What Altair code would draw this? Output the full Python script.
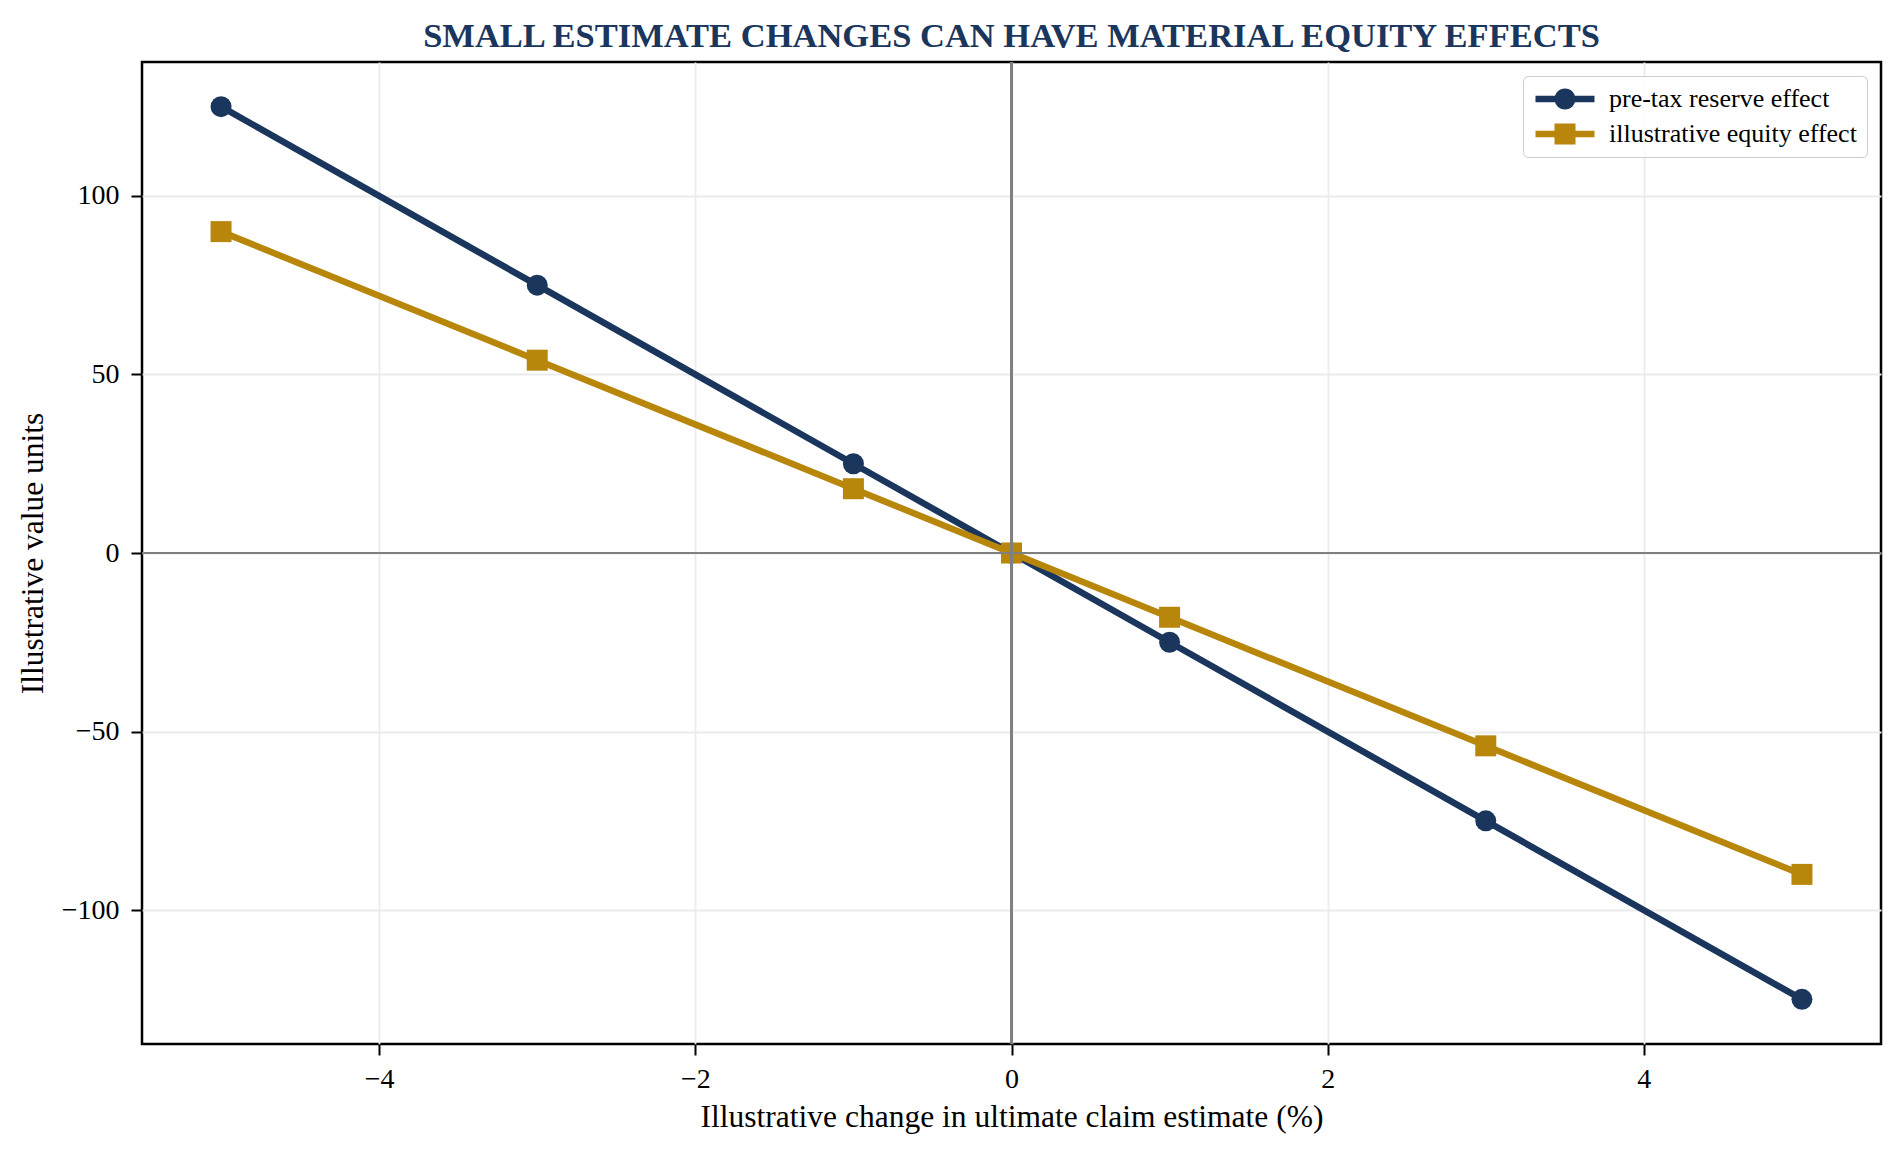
import altair as alt
import pandas as pd

change_pct = [-5, -3, -1, 0, 1, 3, 5]
pretax_effect = [125, 75, 25, 0, -25, -75, -125]
equity_effect = [90, 54, 18, 0, -18, -54, -90]
series_names = ["pre-tax reserve effect", "illustrative equity effect"]
series_colors = ["#1b365d", "#b8860b"]
series_shapes = ["circle", "square"]
x_ticks = [-4, -2, 0, 2, 4]
y_ticks = [-100, -50, 0, 50, 100]

rows = []
for i, x in enumerate(change_pct):
    rows.append({"x": x, "y": pretax_effect[i], "series": series_names[0]})
for i, x in enumerate(change_pct):
    rows.append({"x": x, "y": equity_effect[i], "series": series_names[1]})
df = pd.DataFrame(rows)

FONT = "Liberation Serif"

# legend glyphs: a short line with the marker on it
circ_path = ("M-2.81,-0.305H2.81V0.305H-2.81Z "
             "M1,0A1,1 0 1 1 -1,0A1,1 0 1 1 1,0Z")
sq_path = ("M-2.81,-0.305H2.81V0.305H-2.81Z "
           "M-1,-1H1V1H-1Z")

legend = alt.Legend(
    title=None,
    orient="none",
    legendX=1381,
    legendY=14,
    labelFont=FONT,
    labelFontSize=26,
    labelColor="#000000",
    symbolSize=441,
    symbolOffset=19,
    labelOffset=31,
    symbolStrokeWidth=0,
    symbolOpacity=1,
    rowPadding=9,
    padding=10,
    fillColor="rgba(255,255,255,0.85)",
    strokeColor="#cccccc",
    cornerRadius=5,
    labelLimit=400,
)

xscale = alt.Scale(domain=[-5.5, 5.5], nice=False, zero=False)
yscale = alt.Scale(domain=[-137.5, 137.5], nice=False, zero=False)
cscale = alt.Scale(domain=series_names, range=series_colors)

x_enc = alt.X("x:Q", scale=xscale,
              axis=alt.Axis(values=x_ticks, title="Illustrative change in ultimate claim estimate (%)",
                            labelPadding=10, titlePadding=8, format="d"))
y_enc = alt.Y("y:Q", scale=yscale,
              axis=alt.Axis(values=y_ticks, title="Illustrative value units",
                            labelPadding=12, titlePadding=12, format="d"))

layers = []
for name, col, shp in zip(series_names, series_colors, series_shapes):
    sub = alt.Chart(df).transform_filter(alt.datum.series == name).encode(x=x_enc, y=y_enc)
    layers.append(sub.mark_line(color=col, strokeWidth=6.5))
    layers.append(sub.mark_point(filled=True, opacity=1, size=441, shape=shp, color=col))

# legend-only layer: no rows pass the filter; entries come from the explicit scale domains
legend_layer = alt.Chart(df).transform_filter("false").mark_point(filled=True).encode(
    x=alt.X("x:Q", scale=xscale),
    y=alt.Y("y:Q", scale=yscale),
    color=alt.Color("series:N", scale=cscale, legend=legend),
    shape=alt.Shape("series:N", scale=alt.Scale(domain=series_names, range=[circ_path, sq_path]),
                    legend=legend),
)

zero_h = alt.Chart(df).mark_rule(color="#808080", strokeWidth=2).encode(y=alt.datum(0))
zero_v = alt.Chart(df).mark_rule(color="#808080", strokeWidth=2).encode(x=alt.datum(0))

chart = alt.layer(*layers, zero_h, zero_v, legend_layer).properties(
    width=1739,
    height=982,
    autosize=alt.AutoSizeParams(type="none"),
    padding={"left": 134, "top": 54, "right": 14, "bottom": 103},
    title=alt.TitleParams(
        "SMALL ESTIMATE CHANGES CAN HAVE MATERIAL EQUITY EFFECTS",
        font=FONT, fontSize=34.5, fontWeight="bold", color="#1b365d",
        anchor="middle", offset=7,
    ),
).configure_view(
    stroke="#000000", strokeWidth=2.5
).configure_axis(
    labelFont=FONT, titleFont=FONT, labelFontSize=28, titleFontSize=31.5,
    titleFontWeight="normal", labelColor="#000000", titleColor="#000000",
    tickColor="#000000", tickWidth=2, tickSize=11, domain=False,
    grid=True, gridColor="#ebebeb", gridWidth=1.8,
)

chart.save("out.html", embed_options={"renderer": "svg", "actions": False})
